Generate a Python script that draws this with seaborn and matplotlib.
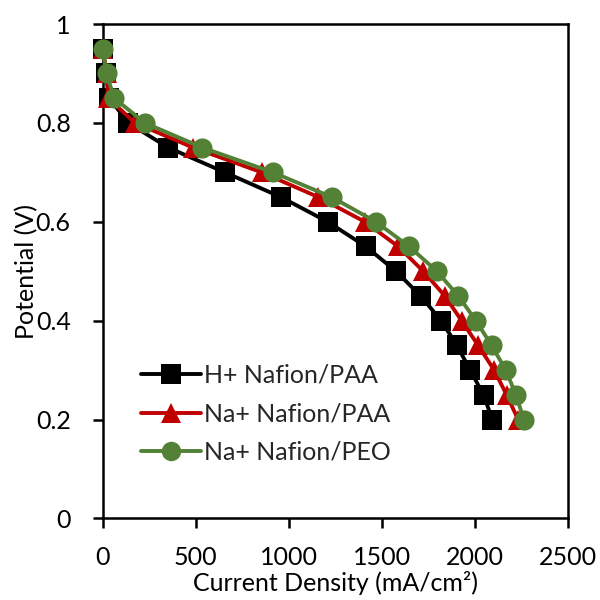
import numpy as np
import pandas as pd
import matplotlib
matplotlib.use("Agg")
import matplotlib.pyplot as plt
import seaborn as sns

# Polarization curves: potential (V) vs current density (mA/cm2)
potential = [0.95, 0.90, 0.85, 0.80, 0.75, 0.70, 0.65, 0.60, 0.55, 0.50,
             0.45, 0.40, 0.35, 0.30, 0.25, 0.20]

h_nafion_paa = [0, 18, 36, 138, 353, 657, 958, 1210, 1415, 1577,
                1710, 1820, 1905, 1976, 2048, 2095]
na_nafion_paa = [0, 22, 30, 174, 487, 855, 1159, 1410, 1589, 1724,
                 1840, 1930, 2019, 2105, 2172, 2234]
na_nafion_peo = [0, 21, 62, 227, 536, 915, 1231, 1469, 1648, 1797,
                 1912, 2007, 2091, 2168, 2222, 2265]

series_names = ["H+ Nafion/PAA", "Na+ Nafion/PAA", "Na+ Nafion/PEO"]
series_values = [h_nafion_paa, na_nafion_paa, na_nafion_peo]

x_ticks = [0, 500, 1000, 1500, 2000, 2500]
y_ticks = [0, 0.2, 0.4, 0.6, 0.8, 1.0]
y_tick_labels = ["0", "0.2", "0.4", "0.6", "0.8", "1"]

df = pd.concat(
    [pd.DataFrame({"current": vals, "potential": potential, "sample": name})
     for name, vals in zip(series_names, series_values)],
    ignore_index=True,
)

sns.set_theme(style="white")
plt.rcParams["font.family"] = ["Lato", "DejaVu Sans"]

fig = plt.figure(figsize=(6, 6), dpi=100)
ax = fig.add_axes([0.171, 0.136, 0.775, 0.824])

palette = {"H+ Nafion/PAA": "#000000",
           "Na+ Nafion/PAA": "#C00000",
           "Na+ Nafion/PEO": "#538135"}
markers = {"H+ Nafion/PAA": "s",
           "Na+ Nafion/PAA": "^",
           "Na+ Nafion/PEO": "o"}

sns.lineplot(data=df, x="current", y="potential", hue="sample", style="sample",
             palette=palette, markers=markers, dashes=False, sort=False,
             estimator=None, linewidth=2.8, markersize=14.5,
             markeredgewidth=0, ax=ax)

# let markers sitting on the y axis show in full
for line in ax.get_lines():
    line.set_clip_on(False)
    line.set_zorder(3)

ax.set_xlim(0, 2500)
ax.set_ylim(0, 1)
ax.set_xticks(x_ticks)
ax.set_xticklabels([str(t) for t in x_ticks])
ax.set_yticks(y_ticks)
ax.set_yticklabels(y_tick_labels)

for side in ["left", "bottom", "top", "right"]:
    ax.spines[side].set_visible(True)
    ax.spines[side].set_color("black")
    ax.spines[side].set_linewidth(1.8)
    ax.spines[side].set_zorder(2.5)

ax.tick_params(axis="both", which="major", direction="out", length=7, width=1.8,
               color="black", labelsize=18, labelcolor="black")
ax.tick_params(axis="y", pad=16)
ax.tick_params(axis="x", pad=13)
ax.xaxis.set_ticks_position("bottom")
ax.yaxis.set_ticks_position("left")

ax.set_xlabel("Current Density (mA/cm²)", fontsize=18, color="black", labelpad=1)
ax.set_ylabel("Potential (V)", fontsize=18, color="black", labelpad=-2)

leg = ax.legend(loc="lower left", bbox_to_anchor=(0.06, 0.09), frameon=False,
                fontsize=18, handlelength=2.4, handletextpad=0.15,
                labelspacing=0.62, borderaxespad=0)
for h in leg.legend_handles:
    h.set_markersize(14)
    h.set_linewidth(2.8)

fig.savefig("out.png", dpi=100)
